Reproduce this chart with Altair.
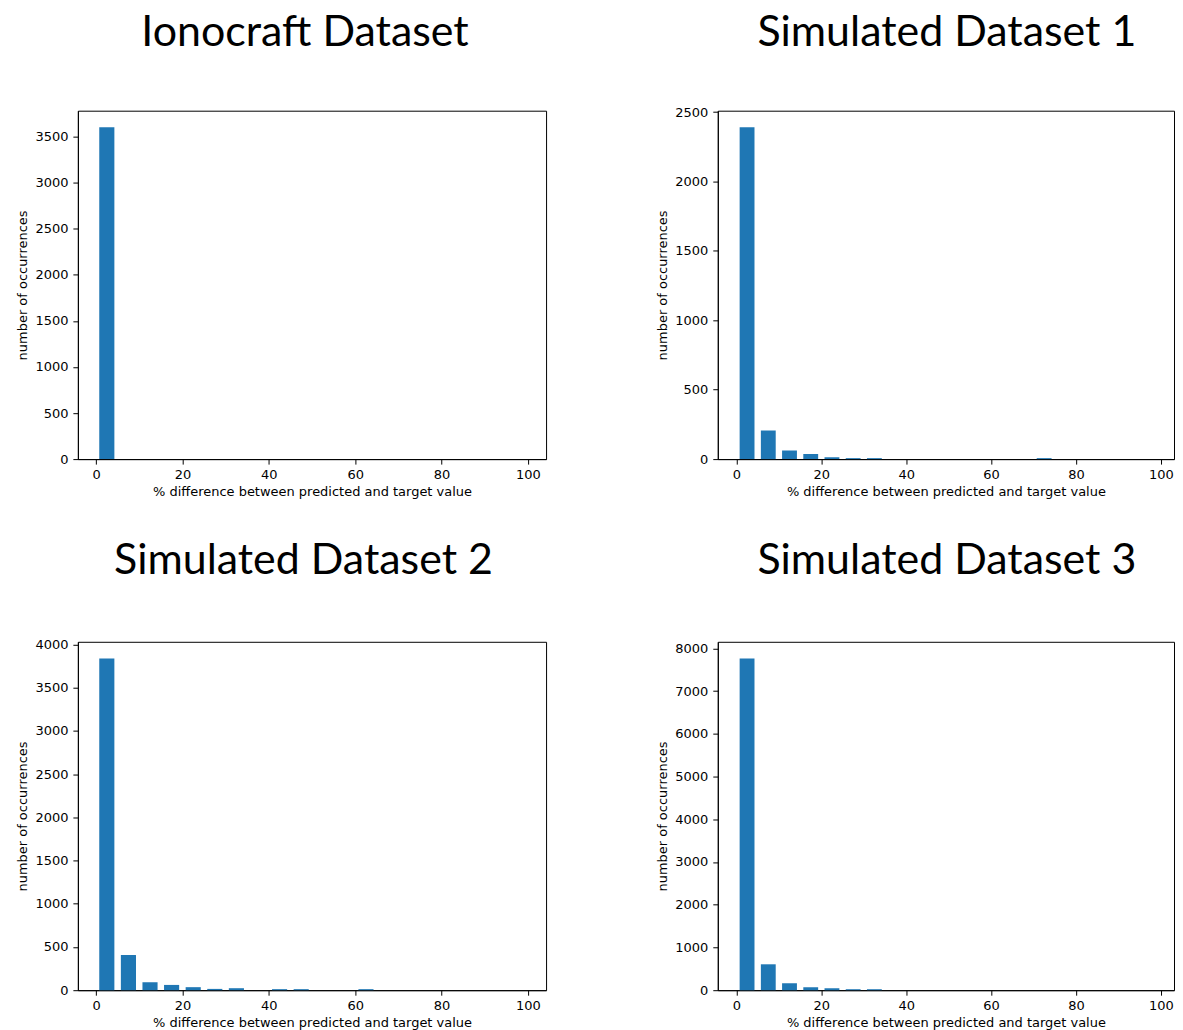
import altair as alt
import pandas as pd

bin_starts = list(range(0, 100, 5))

titles = ["Ionocraft Dataset", "Simulated Dataset 1", "Simulated Dataset 2", "Simulated Dataset 3"]

counts_iono = [3600, 0, 0, 0, 0, 0, 0, 0, 0, 0, 0, 0, 0, 0, 0, 0, 0, 0, 0, 0]
counts_sim1 = [2390, 206, 62, 36, 14, 7, 7, 0, 0, 0, 0, 0, 0, 0, 7, 0, 0, 0, 0, 0]
counts_sim2 = [3840, 407, 92, 61, 35, 15, 23, 0, 12, 12, 0, 0, 12, 0, 0, 0, 0, 0, 0, 0]
counts_sim3 = [7765, 606, 163, 70, 47, 23, 23, 0, 0, 0, 0, 0, 0, 0, 0, 0, 0, 0, 0, 0]

yticks_iono = [0, 500, 1000, 1500, 2000, 2500, 3000, 3500]
yticks_sim1 = [0, 500, 1000, 1500, 2000, 2500]
yticks_sim2 = [0, 500, 1000, 1500, 2000, 2500, 3000, 3500, 4000]
yticks_sim3 = [0, 1000, 2000, 3000, 4000, 5000, 6000, 7000, 8000]
xticks = [0, 20, 40, 60, 80, 100]

XLABEL = "% difference between predicted and target value"
YLABEL = "number of occurrences"

H = 349


def panel(title, counts, yticks, width, xdomain, title_dx, title_y):
    df = pd.DataFrame({"start": bin_starts, "count": counts})
    ymax = max(counts) * 1.05
    bars = (
        alt.Chart(df)
        .transform_calculate(x0="datum.start + 0.75", x1="datum.start + 5 - 0.75")
        .mark_rect(color="#1f77b4")
        .encode(
            x=alt.X("x0:Q",
                    scale=alt.Scale(domain=xdomain, nice=False, zero=False),
                    axis=alt.Axis(values=xticks, title=XLABEL, format="d")),
            x2="x1:Q",
            y=alt.Y("count:Q",
                    scale=alt.Scale(domain=[0, ymax], nice=False),
                    axis=alt.Axis(values=yticks, title=YLABEL, format="d")),
            y2=alt.datum(0),
        )
    )
    ttl = (
        alt.Chart(pd.DataFrame({"t": [title]}))
        .mark_text(font="Lato", fontSize=43, color="black", baseline="alphabetic", align="center")
        .encode(text="t:N", x=alt.value(width / 2 + title_dx), y=alt.value(title_y))
    )
    return alt.layer(bars, ttl).properties(width=width, height=H)


LEFT_W, RIGHT_W = 469, 457
p1 = panel(titles[0], counts_iono, yticks_iono, LEFT_W, [-4.2, 104.2], -7, -65)
p2 = panel(titles[1], counts_sim1, yticks_sim1, RIGHT_W, [-4.4, 103.1], 1, -65)
p3 = panel(titles[2], counts_sim2, yticks_sim2, LEFT_W, [-4.2, 104.2], -8.5, -68)
p4 = panel(titles[3], counts_sim3, yticks_sim3, RIGHT_W, [-4.4, 103.1], 1, -68)

chart = (
    alt.vconcat(
        alt.hconcat(p1, p2, spacing=109),
        alt.hconcat(p3, p4, spacing=109),
        spacing=40,
    )
    .properties(padding={"left": 8, "top": 2, "right": 0, "bottom": 0})
    .configure_view(stroke="black", strokeWidth=1)
    .configure_axis(
        grid=False,
        domainColor="black",
        tickColor="black",
        labelColor="black",
        titleColor="black",
        labelFont="DejaVu Sans",
        titleFont="DejaVu Sans",
        labelFontSize=13,
        titleFontSize=13,
        titleFontWeight="normal",
        tickSize=5,
    )
    .configure_axisY(labelPadding=5, titlePadding=5)
    .configure_axisX(labelPadding=4, titlePadding=4)
)

chart.save("out.html", embed_options={"renderer": "svg", "actions": False})
